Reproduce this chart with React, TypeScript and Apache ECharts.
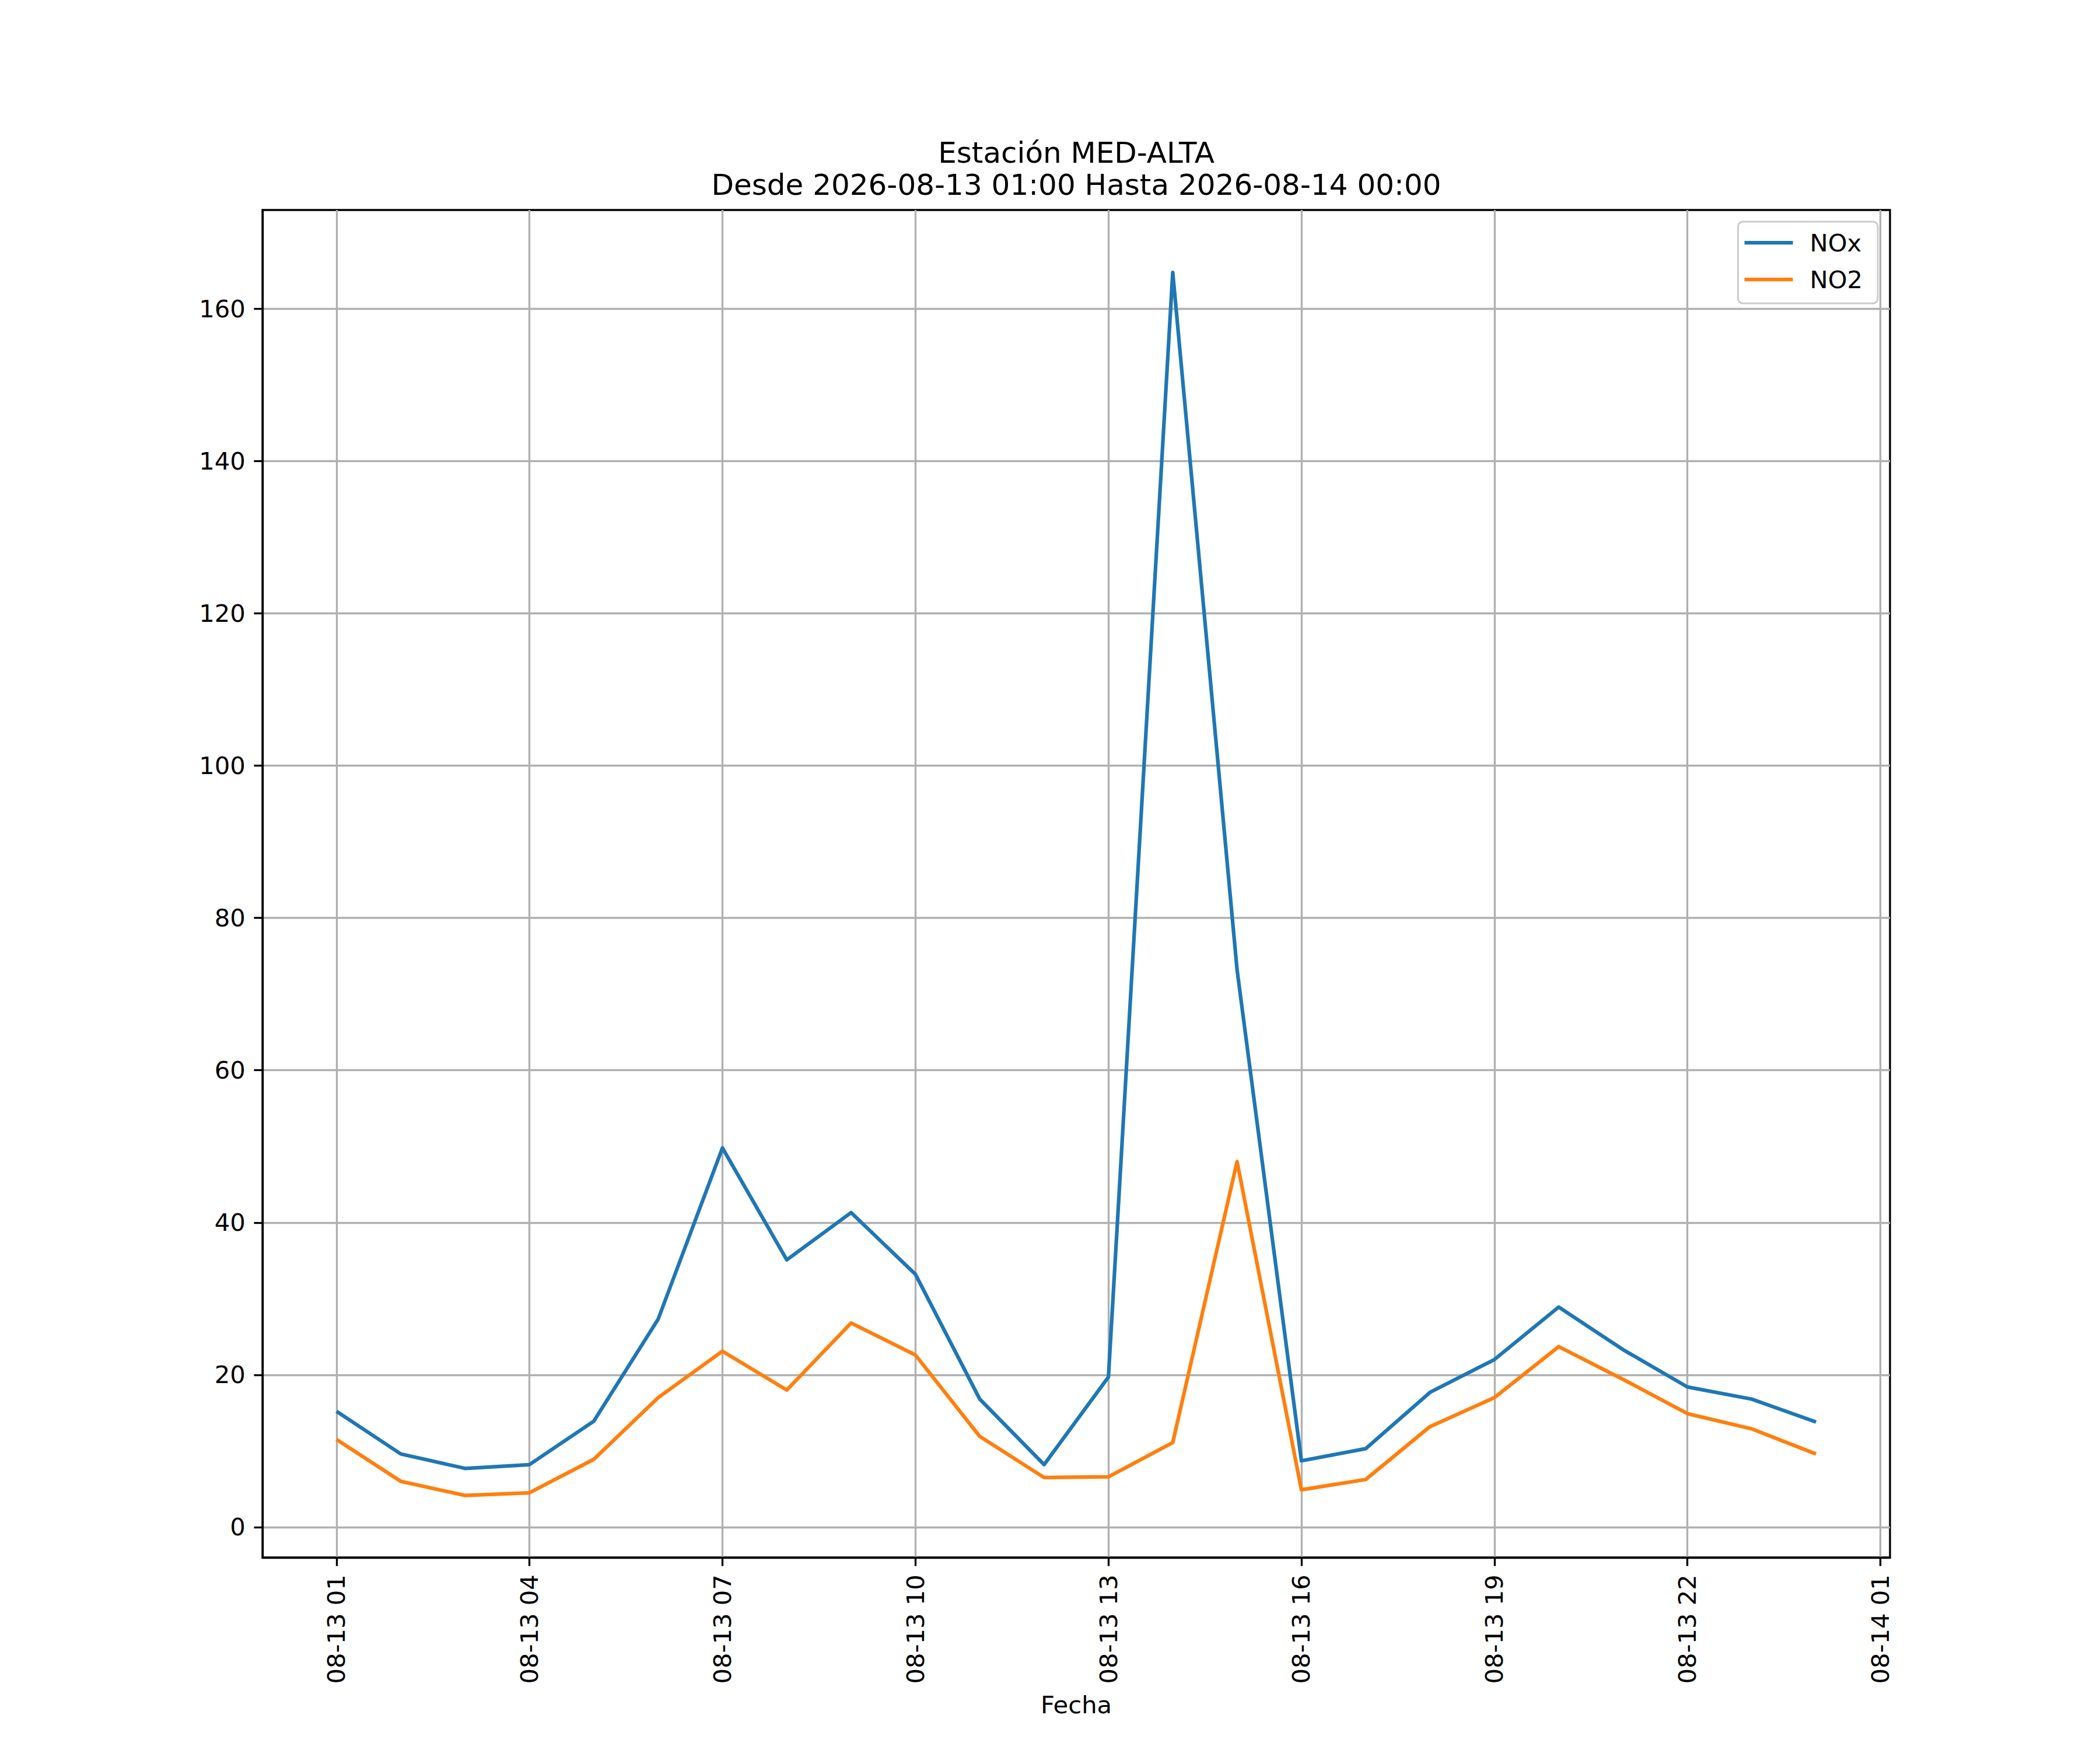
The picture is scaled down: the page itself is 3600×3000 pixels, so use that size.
import React, { useEffect, useRef } from 'react'
import * as echarts from 'echarts'
import type { ECharts, EChartsOption } from 'echarts'

// horas de medición (estación MED-ALTA)
const times = [
  '2026-08-13 01:00', '2026-08-13 02:00', '2026-08-13 03:00', '2026-08-13 04:00',
  '2026-08-13 05:00', '2026-08-13 06:00', '2026-08-13 07:00', '2026-08-13 08:00',
  '2026-08-13 09:00', '2026-08-13 10:00', '2026-08-13 11:00', '2026-08-13 12:00',
  '2026-08-13 13:00', '2026-08-13 14:00', '2026-08-13 15:00', '2026-08-13 16:00',
  '2026-08-13 17:00', '2026-08-13 18:00', '2026-08-13 19:00', '2026-08-13 20:00',
  '2026-08-13 21:00', '2026-08-13 22:00', '2026-08-13 23:00', '2026-08-14 00:00',
]
const nox = [
  15.2, 9.6, 7.7, 8.2, 13.9, 27.3, 49.8, 35.1, 41.3, 33.2, 16.8, 8.2,
  19.7, 164.8, 73.2, 8.7, 10.3, 17.7, 22.0, 28.9, 23.3, 18.4, 16.8, 13.8,
]
const no2 = [
  11.5, 6.0, 4.15, 4.5, 8.9, 17.0, 23.1, 18.0, 26.8, 22.6, 11.9, 6.5,
  6.6, 11.1, 48.0, 4.9, 6.25, 13.2, 17.0, 23.7, 19.4, 14.9, 12.9, 9.6,
]
const xTickLabels = [
  '08-13 01', '08-13 04', '08-13 07', '08-13 10', '08-13 13',
  '08-13 16', '08-13 19', '08-13 22', '08-14 01',
]
const yTicks = [0, 20, 40, 60, 80, 100, 120, 140, 160]

const FONT = 'DejaVu Sans'
const PT = 300 / 72 // matplotlib a 300 dpi

// horas contadas desde 2026-08-13 00:00
const hourOf = (s: string) => {
  const m = s.match(/(\d\d)-(\d\d) (\d\d)/)!
  return (Number(m[2]) - 13) * 24 + Number(m[3])
}
const xs = times.map(hourOf)
const xTicks = xTickLabels.map(hourOf)
const labelByHour = new Map(xTicks.map((h, i) => [h, xTickLabels[i]]))

function PollutionChart() {
  const chartRef = useRef<HTMLDivElement | null>(null)
  const chartInstance = useRef<ECharts | null>(null)

  useEffect(() => {
    const tickStyle = { show: true, length: 3.5 * PT, lineStyle: { color: '#000', width: 0.8 * PT } }
    const option: EChartsOption = {
      animation: false,
      backgroundColor: '#fff',
      grid: {
        left: 450,
        right: 360,
        top: 360,
        bottom: 330,
        show: true,
        borderColor: '#000',
        borderWidth: 0.8 * PT,
        backgroundColor: 'transparent',
        outerBoundsMode: 'none',
      } as any,
      legend: {
        data: ['NOx', 'NO2'],
        orient: 'vertical',
        right: 381,
        top: 380,
        icon: 'rect',
        itemWidth: 83,
        itemHeight: 1.5 * PT,
        itemGap: 21,
        padding: [15, 26, 20, 11],
        backgroundColor: 'rgba(255,255,255,0.8)',
        borderColor: '#cccccc',
        borderWidth: 3,
        borderRadius: 8,
        textStyle: {
          fontFamily: FONT,
          fontSize: 10 * PT,
          lineHeight: 42,
          color: '#000',
          padding: [0, 0, 0, 24],
        },
      },
      xAxis: {
        type: 'value',
        min: -0.15,
        max: 25.15,
        axisLine: { show: true, onZero: false, lineStyle: { color: '#000', width: 0.8 * PT } },
        axisTick: { ...tickStyle, customValues: xTicks } as any,
        axisLabel: {
          customValues: xTicks,
          rotate: 90,
          margin: 7 * PT,
          fontFamily: FONT,
          fontSize: 10 * PT,
          color: '#000',
          formatter: (v: number) => labelByHour.get(v) ?? '',
        } as any,
        splitLine: { show: true, lineStyle: { color: '#b0b0b0', width: 0.8 * PT } },
      },
      yAxis: {
        type: 'value',
        min: -4,
        max: 173,
        axisLine: { show: true, onZero: false, lineStyle: { color: '#000', width: 0.8 * PT } },
        axisTick: { ...tickStyle, customValues: yTicks } as any,
        axisLabel: {
          customValues: yTicks,
          margin: 7 * PT,
          fontFamily: FONT,
          fontSize: 10 * PT,
          color: '#000',
        } as any,
        splitLine: { show: true, lineStyle: { color: '#b0b0b0', width: 0.8 * PT } },
      },
      graphic: [
        {
          type: 'text',
          x: 1845,
          y: 262,
          style: {
            text: 'Estación MED-ALTA',
            font: `normal ${12 * PT}px "${FONT}"`,
            fill: '#000',
            textAlign: 'center',
            textVerticalAlign: 'middle',
          },
        },
        {
          type: 'text',
          x: 1845,
          y: 317,
          style: {
            text: 'Desde 2026-08-13 01:00 Hasta 2026-08-14 00:00',
            font: `normal ${12 * PT}px "${FONT}"`,
            fill: '#000',
            textAlign: 'center',
            textVerticalAlign: 'middle',
          },
        },
        {
          type: 'text',
          x: 1845,
          y: 2922,
          style: {
            text: 'Fecha',
            font: `normal ${10 * PT}px "${FONT}"`,
            fill: '#000',
            textAlign: 'center',
            textVerticalAlign: 'middle',
          },
        },
      ],
      series: [
        {
          name: 'NOx',
          type: 'line',
          showSymbol: false,
          symbol: 'none',
          itemStyle: { color: '#1f77b4' },
          lineStyle: { color: '#1f77b4', width: 1.5 * PT, join: 'round' },
          data: xs.map((x, i) => [x, nox[i]]),
        },
        {
          name: 'NO2',
          type: 'line',
          showSymbol: false,
          symbol: 'none',
          itemStyle: { color: '#ff7f0e' },
          lineStyle: { color: '#ff7f0e', width: 1.5 * PT, join: 'round' },
          data: xs.map((x, i) => [x, no2[i]]),
        },
      ],
    }

    if (chartRef.current) {
      chartInstance.current = echarts.init(chartRef.current, null, { renderer: 'svg' })
      chartInstance.current.setOption(option)
    }

    return () => {
      chartInstance.current?.dispose()
    }
  }, [])

  return (
    <div
      ref={chartRef}
      style={{ position: 'absolute', left: 0, top: 0, width: '3600px', height: '3000px', background: '#fff' }}
    />
  )
}

export default function App() {
  useEffect(() => {
    document.body.style.margin = '0'
  }, [])
  return <PollutionChart />
}
